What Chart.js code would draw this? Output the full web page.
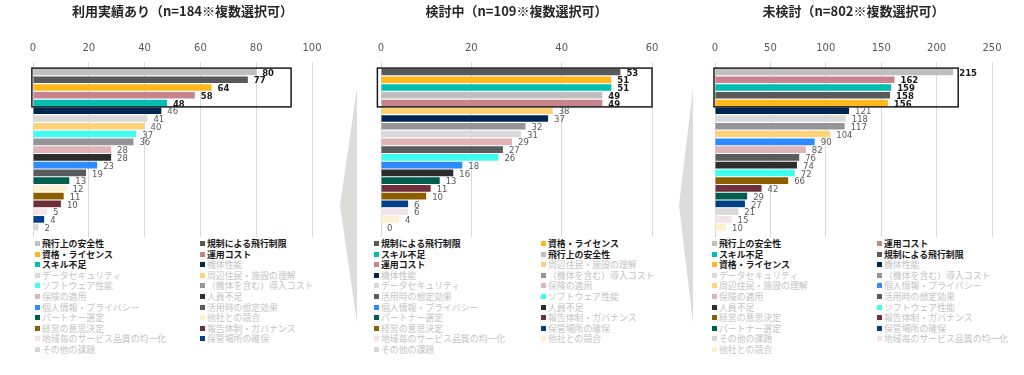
<!DOCTYPE html>
<html><head><meta charset="utf-8">
<script src="https://cdn.jsdelivr.net/npm/chart.js@4.4.1/dist/chart.umd.min.js"></script>
<style>
html,body{margin:0;padding:0;background:#fff;width:1024px;height:375px;overflow:hidden;position:relative;}
.panel{position:absolute;top:0;height:237px;}
.wedge{position:absolute;background:#dcdcd8;}
.legend{position:absolute;top:238px;height:130px;font-family:"Noto Sans CJK JP","Noto Sans",sans-serif;font-size:8.9px;}
.item{position:absolute;white-space:nowrap;height:11px;line-height:11px;}
.sq{position:absolute;left:0;top:3px;width:5px;height:5px;}
.txt{position:absolute;left:7px;top:0;}
</style></head><body>
<div class="wedge" style="left:340px;top:88px;width:17px;height:235px;clip-path:polygon(100% 0,0 50%,100% 100%);"></div>
<div class="wedge" style="left:679px;top:88px;width:14px;height:235px;clip-path:polygon(100% 0,0 50%,100% 100%);"></div>
<div class="panel" style="left:0;width:340px;"><canvas id="c0" width="340" height="237"></canvas></div>
<div class="panel" style="left:340px;width:340px;"><canvas id="c1" width="340" height="237"></canvas></div>
<div class="panel" style="left:680px;width:344px;"><canvas id="c2" width="344" height="237"></canvas></div>
<div class="legend" id="l0"></div>
<div class="legend" id="l1"></div>
<div class="legend" id="l2"></div>
<script>
// ---- data ----
const titles = ['利用実績あり（n=184※複数選択可）', '検討中（n=109※複数選択可）', '未検討（n=802※複数選択可）'];

const usedLabels = ['飛行上の安全性','規制による飛行制限','資格・ライセンス','運用コスト','スキル不足','機体性能','データセキュリティ','周辺住民・施設の理解','ソフトウェア性能','（機体を含む）導入コスト','保険の適用','人員不足','個人情報・プライバシー','活用時の想定効果','パートナー選定','他社との競合','経営の意思決定','報告体制・ガバナンス','地域毎のサービス品質の均一化','保管場所の確保','その他の課題'];
const usedValues = [80,77,64,58,48,46,41,40,37,36,28,28,23,19,13,12,11,10,5,4,2];

const consideringLabels = ['規制による飛行制限','資格・ライセンス','スキル不足','飛行上の安全性','運用コスト','周辺住民・施設の理解','機体性能','（機体を含む）導入コスト','データセキュリティ','保険の適用','活用時の想定効果','ソフトウェア性能','個人情報・プライバシー','人員不足','パートナー選定','報告体制・ガバナンス','経営の意思決定','保管場所の確保','地域毎のサービス品質の均一化','他社との競合','その他の課題'];
const consideringValues = [53,51,51,49,49,38,37,32,31,29,27,26,18,16,13,11,10,6,6,4,0];

const notConsideredLabels = ['飛行上の安全性','運用コスト','スキル不足','規制による飛行制限','資格・ライセンス','機体性能','データセキュリティ','（機体を含む）導入コスト','周辺住民・施設の理解','個人情報・プライバシー','保険の適用','活用時の想定効果','人員不足','ソフトウェア性能','経営の意思決定','報告体制・ガバナンス','パートナー選定','保管場所の確保','その他の課題','地域毎のサービス品質の均一化','他社との競合'];
const notConsideredValues = [215,162,159,158,156,121,118,117,104,90,82,76,74,72,66,42,29,27,21,15,10];

const axisMax = [100, 60, 250];
const axisStep = [20, 20, 50];

// ---- styles ----
const colorOf = {
  '飛行上の安全性':'#bfbfbf','規制による飛行制限':'#58595b','資格・ライセンス':'#ffb71b','運用コスト':'#c8848c',
  'スキル不足':'#00bfb2','機体性能':'#002551','データセキュリティ':'#d9d9d9','周辺住民・施設の理解':'#ffd27a',
  'ソフトウェア性能':'#40fff0','（機体を含む）導入コスト':'#939598','保険の適用':'#e0b3b8','人員不足':'#2d2d2d',
  '個人情報・プライバシー':'#2e8bff','活用時の想定効果':'#5a5b5c','パートナー選定':'#005e50','他社との競合':'#fff0d2',
  '経営の意思決定':'#8c5e00','報告体制・ガバナンス':'#6f2f3a','地域毎のサービス品質の均一化':'#f2e4e8','保管場所の確保':'#003f87',
  'その他の課題':'#d9d9d9'
};
const panels = [
  {labels: usedLabels, values: usedValues, padL: 33, padR: 8, axisW: 20, boxFrom: -0.4, boxTo: 92.5, legendLeft: 35, col2: 165},
  {labels: consideringLabels, values: consideringValues, padL: 41, padR: 28, axisW: 0, boxFrom: -0.8, boxTo: 60, legendLeft: 374, col2: 167},
  {labels: notConsideredLabels, values: notConsideredValues, padL: 35, padR: 32, axisW: 0, boxFrom: -0.9, boxTo: 219.5, legendLeft: 712, col2: 165}
];
const TOPN = 5;

const boxPlugin = {
  id: 'topBox',
  afterDatasetsDraw(chart, args, opts) {
    const {ctx, scales: {x, y}} = chart;
    const pitch = y.getPixelForValue(1) - y.getPixelForValue(0);
    const x0 = x.getPixelForValue(opts.from), x1 = x.getPixelForValue(opts.to);
    const y0 = y.getPixelForValue(0) - pitch / 2, y1 = y.getPixelForValue(TOPN - 1) + pitch / 2;
    ctx.save();
    ctx.strokeStyle = '#1a1a1a';
    ctx.lineWidth = 1.5;
    ctx.strokeRect(x0, y0, x1 - x0, y1 - y0);
    ctx.restore();
  }
};
const valuePlugin = {
  id: 'valueLabels',
  afterDatasetsDraw(chart) {
    const {ctx} = chart;
    const xs = chart.scales.x;
    const data = chart.data.datasets[0].data;
    chart.getDatasetMeta(0).data.forEach((bar, i) => {
      const v = data[i];
      const top = i < TOPN;
      ctx.save();
      ctx.font = (top ? 'bold 8.5px' : '8.5px') + ' "DejaVu Sans", Verdana, sans-serif';
      ctx.fillStyle = top ? '#1a1a1a' : '#595959';
      ctx.textAlign = 'left';
      ctx.textBaseline = 'middle';
      ctx.fillText(String(v), xs.getPixelForValue(v) + 6, bar.y + 1.5);
      ctx.restore();
    });
  }
};

panels.forEach((p, k) => {
  const grid = {color: '#d9d9d9', lineWidth: 1, tickLength: 6};
  new Chart(document.getElementById('c' + k), {
    type: 'bar',
    data: {
      labels: p.labels,
      datasets: [{
        data: p.values,
        backgroundColor: p.labels.map(l => colorOf[l]),
        borderWidth: 0,
        barPercentage: 0.86,
        categoryPercentage: 1.0
      }]
    },
    options: {
      indexAxis: 'y',
      responsive: false,
      animation: false,
      devicePixelRatio: 1,
      layout: {padding: {left: p.padL, right: p.padR, top: 0, bottom: 0}},
      scales: {
        x: {
          position: 'top', min: 0, max: axisMax[k],
          ticks: {stepSize: axisStep[k], padding: 7.3, color: '#595959', font: {family: '"DejaVu Sans", Verdana, sans-serif', size: 10}},
          grid: grid,
          border: {display: false}
        },
        x2: {
          position: 'bottom', min: 0, max: axisMax[k],
          ticks: {stepSize: axisStep[k], display: false},
          grid: {color: '#d9d9d9', lineWidth: 1, tickLength: 6, drawOnChartArea: false},
          border: {display: false}
        },
        y: {
          position: 'right',
          display: true,
          ticks: {display: false},
          grid: {display: false},
          border: {display: false},
          afterFit: (s) => { s.width = p.axisW; }
        }
      },
      plugins: {
        legend: {display: false},
        tooltip: {enabled: false},
        title: {
          display: true,
          text: titles[k],
          color: '#262626',
          font: {family: '"Noto Sans CJK JP", sans-serif', size: 13, weight: 'bold'},
          padding: {top: 3.7, bottom: 16.2}
        },
        topBox: {from: p.boxFrom, to: p.boxTo}
      }
    },
    plugins: [boxPlugin, valuePlugin]
  });

  // two-column legend built from the same arrays
  const lg = document.getElementById('l' + k);
  lg.style.left = p.legendLeft + 'px';
  lg.style.width = '320px';
  p.labels.forEach((l, i) => {
    const it = document.createElement('div');
    it.className = 'item';
    it.style.left = ((i % 2) * p.col2) + 'px';
    it.style.top = (Math.floor(i / 2) * 10.6) + 'px';
    const sq = document.createElement('span');
    sq.className = 'sq';
    sq.style.background = colorOf[l];
    const tx = document.createElement('span');
    tx.className = 'txt';
    tx.textContent = l;
    if (i < TOPN) { tx.style.fontWeight = 'bold'; tx.style.color = '#1a1a1a'; }
    else { tx.style.color = '#c4c4c4'; }
    it.appendChild(sq); it.appendChild(tx);
    lg.appendChild(it);
  });
});
</script>
</body></html>
